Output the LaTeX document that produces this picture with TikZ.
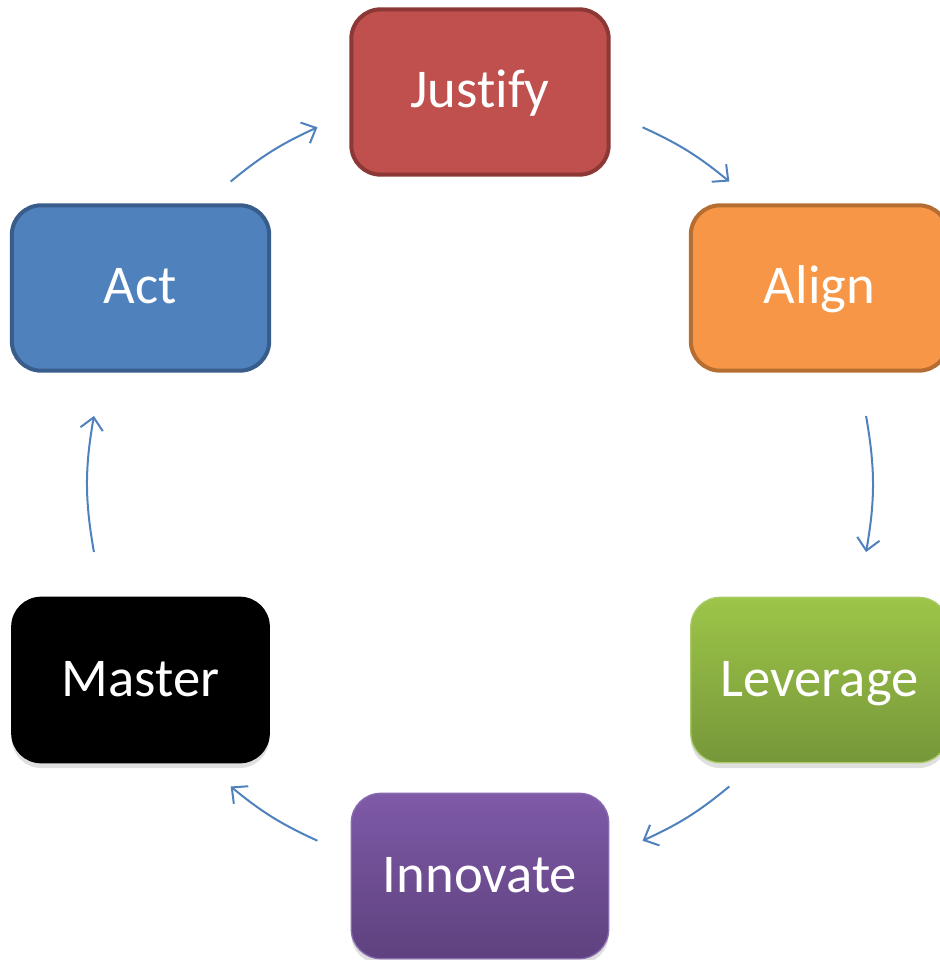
\documentclass[tikz,border=0pt]{standalone}
\usepackage{fontspec}
\setmainfont[Ligatures=NoCommon]{Carlito}
\usetikzlibrary{arrows.meta,shadows}

\definecolor{justfill}{HTML}{C0504D}
\definecolor{justline}{HTML}{8C3836}
\definecolor{alignfill}{HTML}{F79646}
\definecolor{alignline}{HTML}{B66D31}
\definecolor{actfill}{HTML}{4F81BD}
\definecolor{actline}{HTML}{385D8A}
\definecolor{levtop}{HTML}{9DC548}
\definecolor{levbot}{HTML}{76973A}
\definecolor{levline}{HTML}{A9CB6A}
\definecolor{innotop}{HTML}{7F5AA8}
\definecolor{innobot}{HTML}{5E417E}
\definecolor{innoline}{HTML}{8A6AB0}
\definecolor{cycblue}{HTML}{4F81BD}

\tikzset{
	stage/.style={rounded corners=22pt, minimum width=193pt, minimum height=124pt,
		text=white, font=\fontsize{41}{49}\selectfont, text height=31pt, text depth=7pt,
		line width=3pt},
	lifted/.style={drop shadow={shadow xshift=0pt, shadow yshift=-4pt, opacity=0.25}},
	cyc/.style={draw=cycblue, line width=1.5pt, -{Straight Barb[length=9pt,width=17pt]}}
}

\begin{document}
\begin{tikzpicture}[x=0.75pt, y=0.75pt]
			%%%%% START %%%%%
			
			\useasboundingbox (-480, -476) rectangle (459, 484);
			
			\node[stage, fill=justfill, draw=justline] (justify) at (90:392) {Justify};
			\node[stage, fill=alignfill, draw=alignline] (align) at (30:392) {Align};
			\node[stage, lifted, top color=levtop, bottom color=levbot, draw=levline, line width=1pt] (leverage) at (-30:392) {Leverage};
			\node[stage, lifted, top color=innotop, bottom color=innobot, draw=innoline, line width=1pt] (innovate) at (-90:392) {Innovate};
			\node[stage, lifted, fill=black, draw=black, line width=1pt] (master) at (-150:392) {Master};
			\node[stage, fill=actfill, draw=actline] (act) at (150:392) {Act};
			
			\coordinate (actOut) at (129.5:392);
			\coordinate (justIn) at (114.5:392);
			\coordinate (justOut) at (65.5:392);
			\coordinate (alignIn) at (50.5:392);
			\coordinate (alignOut) at (10:392);
			\coordinate (levIn) at (-10:392);
			\coordinate (levOut) at (-50.5:392);
			\coordinate (innoIn) at (-65.5:392);
			\coordinate (innoOut) at (-114.5:392);
			\coordinate (masterIn) at (-129.5:392);
			\coordinate (masterOut) at (190:392);
			\coordinate (actIn) at (170:392);
			
			\draw[cyc] (actOut) to[bend left=7.5] (justIn);
			\draw[cyc] (justOut) to[bend left=7.5] (alignIn);
			\draw[cyc] (alignOut) to[bend left=10] (levIn);
			\draw[cyc] (levOut) to[bend left=7.5] (innoIn);
			\draw[cyc] (innoOut) to[bend left=7.5] (masterIn);
			\draw[cyc] (masterOut) to[bend left=10] (actIn);
			
			%%%%% END %%%%%
\end{tikzpicture}
\end{document}
